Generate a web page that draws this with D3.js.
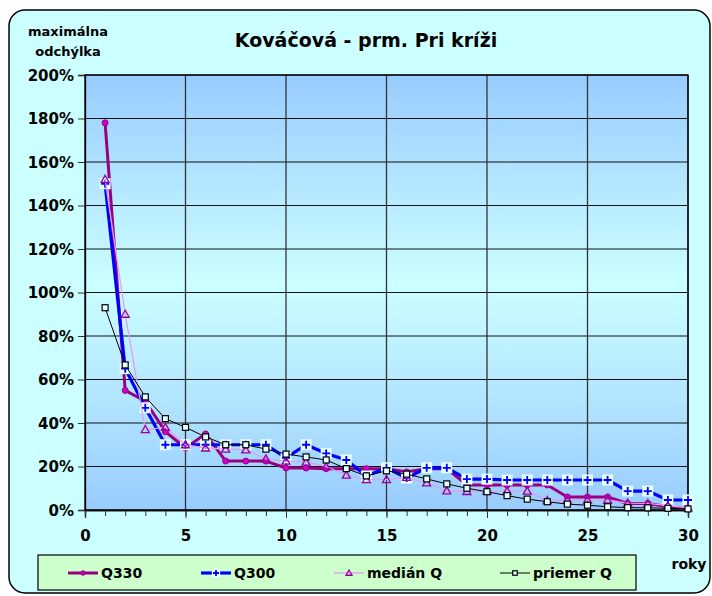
<!DOCTYPE html>
<html>
<head>
<meta charset="utf-8">
<script src="https://cdn.jsdelivr.net/npm/d3@7"></script>
<style>
  body { margin: 0; background: #fff; }
  text { font-family: "DejaVu Sans", sans-serif; font-weight: bold; fill: #000; }
</style>
</head>
<body>
<script>
// roky 1..30
let years = d3.range(1, 31);
let q330 = [178, 55, 50, 36, 28.5, 35, 22.5, 22.5, 22.5, 19.3, 19.3, 19, 19, 19, 19, 17.5, 19, 19, 11.5, 11.5,
  11.5, 11.5, 11.5, 6, 6, 6, 3, 3, 1.5, 0.5];
let q300 = [150, 65, 47, 30, 30, 30, 30, 30, 30, 24, 30, 26, 23, 15.6, 19.4, 14.7, 19.4, 19.4, 14.2, 14.2,
  13.8, 13.8, 13.8, 13.8, 13.8, 13.8, 8.7, 8.7, 4.6, 4.6];
let medianQ = [152, 90, 37, 38, 30, 28.5, 28, 27.6, 23.5, 22.5, 22, 20, 16, 14, 14, 15, 12.5, 8.8, 8.5, 8.7,
  8.7, 8.7, 4.3, 4.6, 4.6, 4.6, 3.2, 3, 2, 1];
let priemerQ = [93, 66.7, 52, 42, 38, 33.6, 30, 30, 28, 25.7, 24.4, 23, 19, 15.7, 18, 16.5, 14.3, 12, 10, 8.4,
  6.6, 5, 3.8, 2.7, 2.2, 1.5, 1.1, 1, 0.8, 0.5];
let yTicks = [0, 0.2, 0.4, 0.6, 0.8, 1, 1.2, 1.4, 1.6, 1.8, 2];
let xTicks = [0, 5, 10, 15, 20, 25, 30];

let width = 712, height = 596;
let plotL = 85, plotR = 688, plotT = 75, plotB = 510;

let svg = d3.select("body").append("svg")
  .attr("width", width)
  .attr("height", height);

let defs = svg.append("defs");
let grad = defs.append("linearGradient").attr("id", "plotbg")
  .attr("x1", 0).attr("y1", 0).attr("x2", 0).attr("y2", 1);
grad.append("stop").attr("offset", "0%").attr("stop-color", "#99CCFF");
grad.append("stop").attr("offset", "48%").attr("stop-color", "#CCFFFF");
grad.append("stop").attr("offset", "100%").attr("stop-color", "#99CCFF");

// chart area
svg.append("rect")
  .attr("x", 9).attr("y", 10)
  .attr("width", 701).attr("height", 583)
  .attr("rx", 16).attr("ry", 16)
  .attr("fill", "#CCFFFF")
  .attr("stroke", "#000")
  .attr("stroke-width", 1.5);

let x = d3.scaleLinear().domain([0, 30]).range([plotL, plotR]);
let y = d3.scaleLinear().domain([0, 2]).range([plotB, plotT]);

svg.append("rect")
  .attr("x", plotL).attr("y", plotT)
  .attr("width", plotR - plotL).attr("height", plotB - plotT)
  .attr("fill", "url(#plotbg)");

// grid
svg.append("g").selectAll("line").data(yTicks.slice(1)).enter().append("line")
  .attr("x1", plotL).attr("x2", plotR)
  .attr("y1", d => y(d)).attr("y2", d => y(d))
  .attr("stroke", "#111").attr("stroke-width", 1);
svg.append("g").selectAll("line").data(xTicks.slice(1)).enter().append("line")
  .attr("x1", d => x(d)).attr("x2", d => x(d))
  .attr("y1", plotT).attr("y2", plotB)
  .attr("stroke", "#333").attr("stroke-width", 1.3);

// axes
let yAxis = svg.append("g")
  .attr("transform", `translate(${plotL},0)`)
  .call(d3.axisLeft(y).tickValues(yTicks).tickFormat(d3.format(".0%")).tickSize(7).tickPadding(4));
yAxis.selectAll("text").attr("font-size", "15px").attr("dy", "0.36em");

let xMinor = svg.append("g")
  .attr("transform", `translate(0,${plotB})`)
  .call(d3.axisBottom(x).tickValues(years.concat([0])).tickSize(6).tickFormat(""));
let xAxis = svg.append("g")
  .attr("transform", `translate(0,${plotB})`)
  .call(d3.axisBottom(x).tickValues(xTicks).tickSize(8).tickPadding(12));
xAxis.selectAll("text").attr("font-size", "15px");
svg.selectAll(".domain").attr("stroke", "#000").attr("stroke-width", 1.3);
svg.selectAll(".tick line").attr("stroke", "#333");

// plot border
svg.append("rect")
  .attr("x", plotL).attr("y", plotT)
  .attr("width", plotR - plotL).attr("height", plotB - plotT)
  .attr("fill", "none").attr("stroke", "#000").attr("stroke-width", 1.3);

// titles
svg.append("text").attr("x", 366).attr("y", 47)
  .attr("text-anchor", "middle").attr("font-size", "19px")
  .text("Kováčová - prm. Pri kríži");
svg.append("text").attr("x", 68).attr("y", 36)
  .attr("text-anchor", "middle").attr("font-size", "13px")
  .text("maximálna");
svg.append("text").attr("x", 68).attr("y", 56)
  .attr("text-anchor", "middle").attr("font-size", "13px")
  .text("odchýlka");
svg.append("text").attr("x", 689).attr("y", 569)
  .attr("text-anchor", "middle").attr("font-size", "14px")
  .text("roky");

let series = [
  { name: "Q330", values: q330, color: "#990080", width: 3, marker: "circle" },
  { name: "Q300", values: q300, color: "#0000FF", width: 3.2, marker: "plus" },
  { name: "medián Q", values: medianQ, color: "#DDA0F0", width: 1.3, marker: "triangle" },
  { name: "priemer Q", values: priemerQ, color: "#000000", width: 1, marker: "square" }
];

let line = d3.line()
  .x((d, i) => x(years[i]))
  .y(d => y(d / 100));

function drawMarker(g, type, k) {
  k = k || 1;
  if (type == "circle") {
    g.append("circle").attr("r", 3 * k)
      .attr("fill", "#CC00CC").attr("stroke", "#990080").attr("stroke-width", 1);
  } else if (type == "plus") {
    g.append("rect").attr("x", -5.5 * k).attr("y", -5.5 * k).attr("width", 11 * k).attr("height", 11 * k)
      .attr("fill", "#E6FFFF");
    g.append("path").attr("d", `M${-4 * k},0H${4 * k}M0,${-4 * k}V${4 * k}`)
      .attr("stroke", "#0000FF").attr("stroke-width", 1.8).attr("fill", "none");
  } else if (type == "triangle") {
    g.append("path").attr("d", `M0,${-4 * k}L${4 * k},${3 * k}H${-4 * k}Z`)
      .attr("fill", "none").attr("stroke", "#990099").attr("stroke-width", 1.3);
  } else {
    g.append("rect").attr("x", -3 * k).attr("y", -3 * k).attr("width", 6 * k).attr("height", 6 * k)
      .attr("fill", "#E6FFFF").attr("stroke", "#000").attr("stroke-width", 1.2);
  }
}

series.forEach(s => {
  svg.append("path")
    .attr("d", line(s.values))
    .attr("fill", "none")
    .attr("stroke", s.color)
    .attr("stroke-width", s.width)
    .attr("stroke-linejoin", "round");
  svg.append("g").selectAll("g").data(s.values).enter().append("g")
    .attr("transform", (d, i) => `translate(${x(years[i])},${y(d / 100)})`)
    .each(function () { drawMarker(d3.select(this), s.marker); });
});

// legend
let legend = svg.append("g");
legend.append("rect")
  .attr("x", 38).attr("y", 555).attr("width", 598).attr("height", 35)
  .attr("fill", "#CCFFCC").attr("stroke", "#000").attr("stroke-width", 1.2);
let legendX = [68, 201, 334, 500];
series.forEach((s, i) => {
  let lx = legendX[i];
  legend.append("line")
    .attr("x1", lx).attr("x2", lx + 30)
    .attr("y1", 573).attr("y2", 573)
    .attr("stroke", s.color).attr("stroke-width", s.width);
  let mg = legend.append("g").attr("transform", `translate(${lx + 15},573)`);
  drawMarker(mg, s.marker, 0.75);
  legend.append("text")
    .attr("x", lx + 33).attr("y", 578)
    .attr("font-size", "14px")
    .text(s.name);
});
</script>
</body>
</html>
